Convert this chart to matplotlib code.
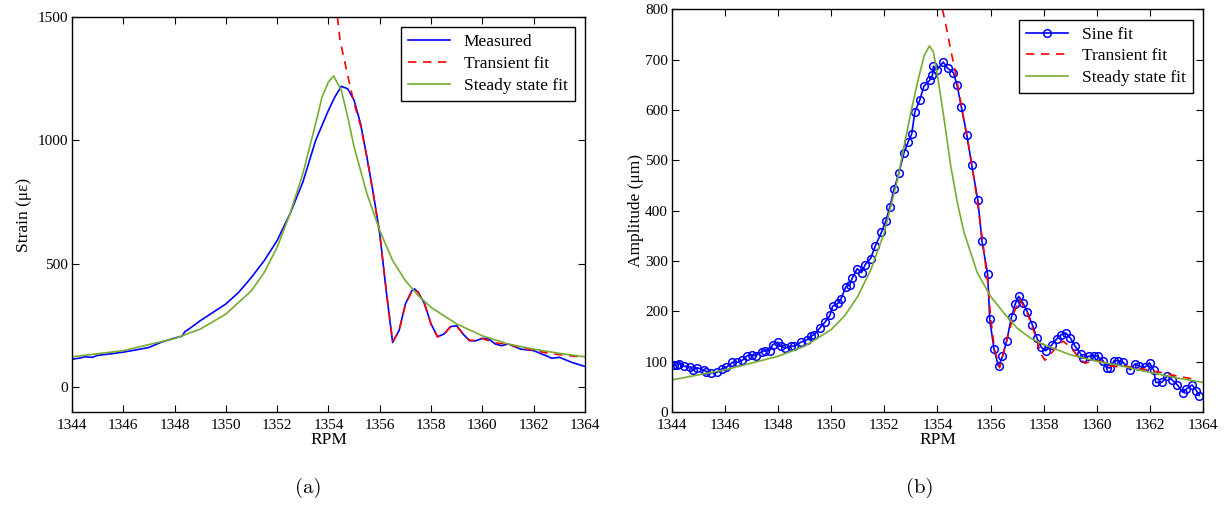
import numpy as np
import matplotlib.pyplot as plt

plt.rcParams['font.family'] = ['Liberation Serif', 'DejaVu Serif']

# ---- (a) strain data
rpm_meas = [1344.0, 1344.3, 1344.5, 1344.8, 1345.0, 1345.5, 1346.0, 1346.5, 1346.8, 1347.0,
            1347.5, 1348.0, 1348.3, 1348.4, 1348.5, 1349.0, 1349.5, 1350.0, 1350.5, 1351.0,
            1351.5, 1352.0, 1352.5, 1353.0, 1353.5, 1354.0, 1354.25, 1354.5, 1354.75, 1355.0,
            1355.25, 1355.5, 1355.75, 1356.0, 1356.25, 1356.5, 1356.75, 1357.0, 1357.25, 1357.35,
            1357.5, 1357.75, 1358.0, 1358.25, 1358.5, 1358.75, 1359.0, 1359.25, 1359.5, 1359.75,
            1360.0, 1360.25, 1360.5, 1360.75, 1361.0, 1361.5, 1362.0, 1362.3, 1362.5, 1362.7,
            1363.0, 1363.5, 1364.0]
strain_meas = [114, 119, 124, 122, 130, 136, 143, 152, 158, 162,
               184, 200, 208, 226, 232, 270, 304, 338, 385, 446,
               514, 595, 703, 831, 1000, 1122, 1176, 1219, 1209, 1162,
               1068, 932, 784, 622, 392, 182, 230, 338, 392, 399,
               385, 338, 257, 205, 216, 246, 250, 216, 189, 189,
               199, 196, 176, 169, 176, 155, 149, 136, 128, 118,
               122, 101, 85]

rpm_trans_a = [1354.35, 1354.45, 1354.65, 1354.85, 1355.0, 1355.25, 1355.5, 1355.75, 1356.0, 1356.25,
               1356.5, 1356.75, 1357.0, 1357.25, 1357.35, 1357.5, 1357.75, 1358.0, 1358.25, 1358.5,
               1358.75, 1359.0, 1359.25, 1359.5, 1359.75, 1360.0, 1360.5, 1361.0, 1361.5, 1362.0,
               1362.5, 1363.0, 1363.8]
strain_trans = [1500, 1405, 1311, 1216, 1150, 1060, 930, 780, 620, 395,
                185, 228, 335, 390, 397, 383, 335, 255, 205, 214,
                244, 248, 216, 191, 190, 198, 180, 175, 160, 150,
                140, 133, 124]

rpm_ss_a = [1344.0, 1346.0, 1348.0, 1349.0, 1350.0, 1351.0, 1351.5, 1352.0, 1352.5, 1353.0,
            1353.5, 1353.75, 1354.0, 1354.2, 1354.5, 1354.75, 1355.0, 1355.5, 1356.0, 1356.5,
            1357.0, 1357.5, 1358.0, 1359.0, 1360.0, 1361.0, 1362.0, 1363.0, 1364.0]
strain_ss = [124, 149, 198, 236, 297, 392, 466, 568, 703, 865,
             1068, 1176, 1237, 1261, 1203, 1095, 973, 784, 635, 514,
             432, 372, 324, 257, 209, 176, 155, 138, 124]

# ---- (b) amplitude data
rpm_sine = [1344.07, 1344.18, 1344.27, 1344.47, 1344.68, 1344.78, 1344.96, 1345.19, 1345.30, 1345.46,
            1345.70, 1345.87, 1346.05, 1346.28, 1346.46, 1346.65, 1346.83, 1347.01, 1347.15, 1347.38,
            1347.52, 1347.68, 1347.79, 1347.99, 1348.10, 1348.27, 1348.47, 1348.61, 1348.86, 1349.09,
            1349.25, 1349.36, 1349.57, 1349.77, 1349.95, 1350.05, 1350.25, 1350.36, 1350.55, 1350.69,
            1350.80, 1350.98, 1351.14, 1351.28, 1351.48, 1351.66, 1351.89, 1352.06, 1352.21, 1352.37,
            1352.55, 1352.74, 1352.89, 1353.03, 1353.15, 1353.33, 1353.49, 1353.71, 1353.81, 1353.85,
            1353.99, 1354.22, 1354.38, 1354.60, 1354.74, 1354.90, 1355.11, 1355.29, 1355.52, 1355.68,
            1355.89, 1355.97, 1356.13, 1356.30, 1356.45, 1356.61, 1356.79, 1356.93, 1357.06, 1357.23,
            1357.39, 1357.57, 1357.75, 1357.91, 1358.08, 1358.30, 1358.49, 1358.66, 1358.84, 1359.01,
            1359.17, 1359.39, 1359.49, 1359.72, 1359.90, 1360.03, 1360.24, 1360.37, 1360.51, 1360.65,
            1360.81, 1360.99, 1361.26, 1361.44, 1361.61, 1361.81, 1361.99, 1362.15, 1362.22, 1362.45,
            1362.66, 1362.84, 1363.04, 1363.25, 1363.38, 1363.59, 1363.75, 1363.86]
amp_sine = [93, 93, 96, 91, 90, 84, 88, 84, 80, 78,
            79, 86, 89, 99, 99, 103, 112, 114, 112, 120,
            122, 122, 134, 139, 131, 127, 131, 131, 139, 144,
            151, 154, 167, 179, 192, 210, 216, 224, 249, 252,
            267, 285, 277, 293, 305, 330, 357, 380, 408, 444,
            475, 515, 536, 552, 596, 619, 647, 659, 669, 687,
            680, 695, 683, 674, 649, 606, 550, 491, 421, 339,
            274, 184, 125, 91, 111, 142, 189, 215, 230, 216,
            199, 174, 147, 129, 122, 133, 145, 154, 157, 147,
            132, 116, 108, 111, 112, 111, 102, 88, 88, 102,
            102, 99, 84, 96, 91, 89, 98, 83, 59, 59,
            72, 64, 54, 39, 46, 54, 43, 33]

rpm_trans_b = [1354.19, 1354.35, 1354.49, 1354.66, 1354.9, 1355.1, 1355.3, 1355.5, 1355.7, 1355.9,
               1356.0, 1356.15, 1356.34, 1356.6, 1356.9, 1357.1, 1357.4, 1357.7, 1357.9, 1358.05,
               1358.3, 1358.55, 1358.73, 1359.0, 1359.3, 1359.55, 1359.9, 1360.2, 1360.5, 1360.8,
               1361.0, 1361.5, 1362.0, 1362.5, 1363.0, 1363.5, 1363.8]
amp_trans = [800, 760, 722, 679, 609, 550, 490, 420, 340, 255,
             190, 125, 88, 140, 200, 224, 195, 150, 115, 103,
             118, 133, 141, 130, 110, 97, 103, 100, 92, 90,
             92, 88, 83, 78, 72, 67, 65]

rpm_ss_b = [1344.0, 1346.0, 1348.0, 1349.0, 1350.0, 1350.5, 1351.0, 1351.5, 1352.0, 1352.5,
            1353.0, 1353.25, 1353.5, 1353.7, 1353.85, 1354.0, 1354.25, 1354.5, 1354.75, 1355.0,
            1355.5, 1356.0, 1356.5, 1357.0, 1357.5, 1358.0, 1359.0, 1360.0, 1361.0, 1362.0,
            1363.0, 1364.0]
amp_ss = [64, 84, 111, 131, 164, 191, 230, 284, 357, 463,
          596, 655, 708, 727, 715, 669, 582, 489, 416, 357,
          277, 230, 197, 167, 147, 134, 114, 101, 91, 79,
          68, 59]

xticks = np.arange(1344, 1365, 2)
green = '#77AC30'

fig = plt.figure(figsize=(12.3, 5.12), dpi=100)
ax1 = fig.add_axes([0.0585, 0.195, 0.4171, 0.772])
ax2 = fig.add_axes([0.5463, 0.195, 0.4317, 0.787])

ax1.plot(rpm_meas, strain_meas, color='blue', lw=1.2, label='Measured')
ax1.plot(rpm_trans_a, strain_trans, color='red', ls=(0, (5, 4)), lw=1.2, label='Transient fit')
ax1.plot(rpm_ss_a, strain_ss, color=green, lw=1.2, label='Steady state fit')
ax1.set_xlim(1344, 1364)
ax1.set_ylim(-100, 1500)
ax1.set_yticks([0, 500, 1000, 1500])
ax1.set_xlabel('RPM', fontsize=12.5, labelpad=0)
ax1.set_ylabel('Strain (με)', fontsize=12.5, labelpad=4)

ax2.plot(rpm_sine, amp_sine, color='blue', lw=1.2, marker='o', ms=5.5, mfc='none', mew=1.1,
         label='Sine fit')
ax2.plot(rpm_trans_b, amp_trans, color='red', ls=(0, (5, 4)), lw=1.2, label='Transient fit')
ax2.plot(rpm_ss_b, amp_ss, color=green, lw=1.2, label='Steady state fit')
ax2.set_xlim(1344, 1364)
ax2.set_ylim(0, 800)
ax2.set_yticks(np.arange(0, 801, 100))
ax2.set_xlabel('RPM', fontsize=12.5, labelpad=0)
ax2.set_ylabel('Amplitude (μm)', fontsize=12.5, labelpad=1)

for ax in (ax1, ax2):
    ax.set_xticks(xticks)
    ax.tick_params(direction='in', top=True, right=True, length=5, labelsize=11)
    ax.tick_params(axis='x', pad=5)
    ax.tick_params(axis='y', pad=3)
    for s in ax.spines.values():
        s.set_linewidth(1.0)
    leg = ax.legend(loc='upper right', fontsize=12.5, fancybox=False, framealpha=1,
                    edgecolor='black', borderaxespad=0.6, handlelength=2.4,
                    labelspacing=0.32, borderpad=0.4)
    leg.get_frame().set_linewidth(1.0)

fig.text(0.251, 0.037, '(a)', fontsize=15, family='cmr10', ha='center')
fig.text(0.748, 0.037, '(b)', fontsize=15, family='cmr10', ha='center')

fig.savefig('out.png', dpi=100)
